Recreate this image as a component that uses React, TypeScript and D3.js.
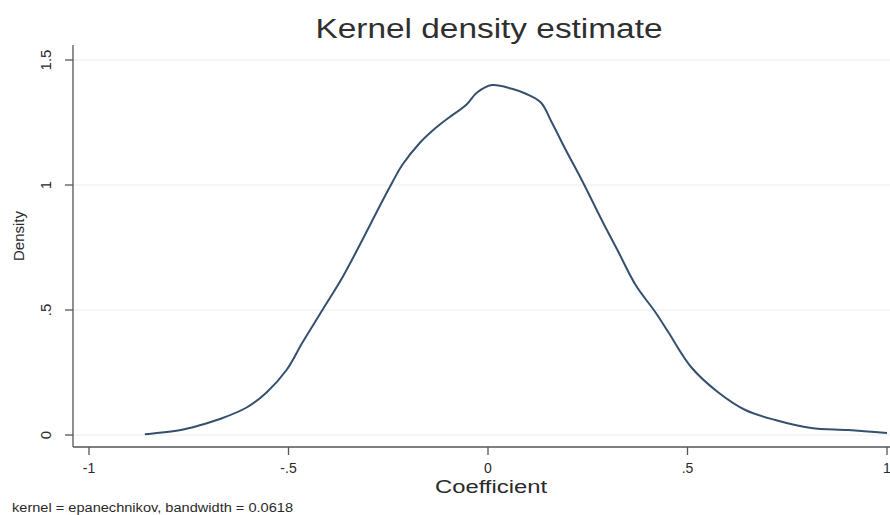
import React, { useEffect } from "react";
import * as d3 from "d3";

// values
const coefX = [
  -0.86, -0.77, -0.72, -0.67, -0.605, -0.555, -0.505, -0.465, -0.415, -0.365, -0.315,
  -0.27, -0.24, -0.215, -0.17, -0.13, -0.0975, -0.055, -0.0275, 0.01, 0.06, 0.095,
  0.1325, 0.16, 0.195, 0.235, 0.285, 0.3275, 0.37, 0.42, 0.4525, 0.51, 0.5775, 0.645,
  0.72, 0.81, 0.9025, 1.0,
];
const density = [
  0.003, 0.02, 0.04, 0.065, 0.11, 0.17, 0.26, 0.37, 0.5, 0.63, 0.78,
  0.92, 1.01, 1.08, 1.17, 1.23, 1.27, 1.32, 1.37, 1.4, 1.385, 1.365,
  1.33, 1.25, 1.14, 1.02, 0.86, 0.73, 0.6, 0.49, 0.41, 0.27, 0.17, 0.1,
  0.06, 0.028, 0.02, 0.008,
];
const xTicks = [-1, -0.5, 0, 0.5, 1];
const xTickLabels = ["-1", "-.5", "0", ".5", "1"];
const yTicks = [0, 0.5, 1, 1.5];
const yTickLabels = ["0", ".5", "1", "1.5"];

const width = 890;
const height = 515;
const font = "'Liberation Sans', Arial, sans-serif";

const App = () => {
  useEffect(() => {
    document.body.style.margin = "0";
  }, []);

  const x = d3.scaleLinear().domain([-1, 1]).range([89, 887]);
  const y = d3.scaleLinear().domain([0, 1.5]).range([435, 60]);
  const axisLeft = 73;
  const axisBottom = 447;

  const line = d3
    .line<number>()
    .x((d, i) => x(coefX[i]))
    .y((d) => y(d))
    .curve(d3.curveCatmullRom.alpha(0.5));

  return (
    <svg width={width} height={height} style={{ display: "block", background: "#fff" }}>
      {/* gridlines */}
      {yTicks.map((t) => (
        <line key={"g" + t} x1={axisLeft} x2={width} y1={y(t)} y2={y(t)} stroke="#ececec" strokeWidth={1} />
      ))}

      {/* curve */}
      <path d={line(density) || ""} fill="none" stroke="#34506e" strokeWidth={2} />

      {/* axes */}
      <line x1={axisLeft} x2={axisLeft} y1={45} y2={axisBottom} stroke="#555" strokeWidth={1.3} />
      <line x1={axisLeft} x2={width} y1={axisBottom} y2={axisBottom} stroke="#555" strokeWidth={1.3} />

      {yTicks.map((t, i) => (
        <g key={"y" + t}>
          <line x1={axisLeft - 8} x2={axisLeft} y1={y(t)} y2={y(t)} stroke="#555" strokeWidth={1.3} />
          <text
            transform={`translate(51,${y(t)}) rotate(-90)`}
            textAnchor="middle"
            fontFamily={font}
            fontSize={15}
            fill="#2a2a2a"
          >
            {yTickLabels[i]}
          </text>
        </g>
      ))}

      {xTicks.map((t, i) => (
        <g key={"x" + t}>
          <line x1={x(t)} x2={x(t)} y1={axisBottom} y2={axisBottom + 8} stroke="#555" strokeWidth={1.3} />
          <text x={x(t)} y={473} textAnchor="middle" fontFamily={font} fontSize={14} fill="#2a2a2a">
            {xTickLabels[i]}
          </text>
        </g>
      ))}

      {/* titles */}
      <text
        x={489}
        y={38}
        textAnchor="middle"
        fontFamily={font}
        fontSize={27}
        fill="#2f2f2f"
        textLength={347}
        lengthAdjust="spacingAndGlyphs"
      >
        Kernel density estimate
      </text>
      <text
        x={491}
        y={493}
        textAnchor="middle"
        fontFamily={font}
        fontSize={18}
        fill="#2a2a2a"
        textLength={112}
        lengthAdjust="spacingAndGlyphs"
      >
        Coefficient
      </text>
      <text
        transform="translate(24,236) rotate(-90)"
        textAnchor="middle"
        fontFamily={font}
        fontSize={15}
        fill="#2a2a2a"
      >
        Density
      </text>
      <text
        x={12}
        y={512}
        fontFamily={font}
        fontSize={12.5}
        fill="#2a2a2a"
        textLength={281}
        lengthAdjust="spacingAndGlyphs"
      >
        kernel = epanechnikov, bandwidth = 0.0618
      </text>
    </svg>
  );
};

export default App;
